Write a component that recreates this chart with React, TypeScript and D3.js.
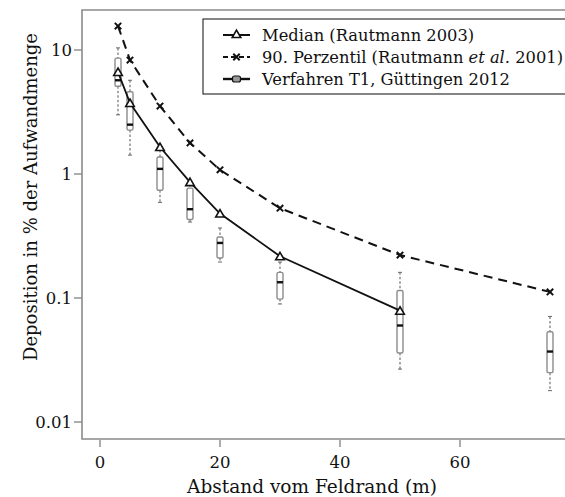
import React from "react";
import * as d3 from "d3";

// Abstand vom Feldrand (m)
const medianX = [3, 5, 10, 15, 20, 30, 50];
const medianY = [6.65, 3.74, 1.65, 0.86, 0.48, 0.217, 0.079];
const p90X = [3, 5, 10, 15, 20, 30, 50, 75];
const p90Y = [15.6, 8.3, 3.53, 1.78, 1.08, 0.53, 0.222, 0.112];

// Verfahren T1, Güttingen 2012 (boxplots)
const boxX = [3, 5, 10, 15, 20, 30, 50, 75];
const whiskerHi = [10.4, 5.7, 1.56, 0.83, 0.367, 0.195, 0.161, 0.071];
const boxHi = [8.6, 4.6, 1.37, 0.77, 0.31, 0.161, 0.115, 0.0535];
const boxMed = [5.7, 2.5, 1.1, 0.52, 0.278, 0.134, 0.06, 0.037];
const boxLo = [5.1, 2.26, 0.74, 0.43, 0.21, 0.098, 0.036, 0.025];
const whiskerLo = [3.0, 1.42, 0.59, 0.41, 0.195, 0.0895, 0.0267, 0.0179];

const xTicks = [0, 20, 40, 60];
const yTicks = [10, 1, 0.1, 0.01];
const yTickLabels = ["10", "1", "0.1", "0.01"];

const W = 565, H = 497;
const left = 82, top = 10, bottom = 439;
const font = "'DejaVu Serif', serif";
const axisGray = "#8a8a8a";

const x = d3.scaleLinear().domain([-3, 78]).range([left, left + 81 * 6]);
const y = d3.scaleLog().domain([0.01, 10]).range([422, 50]);

const line = d3.line<[number, number]>().x(d => x(d[0])).y(d => y(d[1]));
const tri = d3.symbol().type(d3.symbolTriangle).size(32)();

function Cross({ cx, cy }: { cx: number; cy: number }) {
  const s = 3.2;
  return (
    <path d={`M${cx - s},${cy - s}L${cx + s},${cy + s}M${cx - s},${cy + s}L${cx + s},${cy - s}`}
      stroke="#111" strokeWidth={2} />
  );
}

export default function App() {
  const medPts = medianX.map((v, i) => [v, medianY[i]] as [number, number]);
  const p90Pts = p90X.map((v, i) => [v, p90Y[i]] as [number, number]);
  const bw = 6;
  const legendRows = [35, 57, 79];
  const lx0 = 223, lx1 = 250, lxm = 236.5;
  return (
    <svg width={W} height={H} style={{ position: "absolute", left: 0, top: 0 }} fontFamily={font}>
      <rect x={0} y={0} width={W} height={H} fill="#fff" />
      {/* frame */}
      <path d={`M${W + 5},${top}H${left}V${bottom}H${W + 5}`} fill="none" stroke={axisGray} strokeWidth={1.6} />
      {xTicks.map(t => (
        <g key={"xt" + t}>
          <line x1={x(t)} x2={x(t)} y1={bottom + 1} y2={bottom + 8} stroke={axisGray} strokeWidth={1.4} />
          <text x={x(t)} y={468} textAnchor="middle" fontSize={16.5} fill="#111">{t}</text>
        </g>
      ))}
      {yTicks.map((t, i) => (
        <g key={"yt" + t}>
          <line x1={left - 8} x2={left} y1={y(t)} y2={y(t)} stroke={axisGray} strokeWidth={1.4} />
          <text x={72} y={y(t)} dy="0.35em" textAnchor="end" fontSize={16.5} fill="#111">{yTickLabels[i]}</text>
        </g>
      ))}
      <text x={312} y={493} textAnchor="middle" fontSize={18.5} fill="#111">Abstand vom Feldrand (m)</text>
      <text transform="translate(37,197) rotate(-90)" textAnchor="middle" fontSize={18} fill="#111">
        Deposition in % der Aufwandmenge
      </text>

      {/* boxplots */}
      {boxX.map((v, i) => {
        const cx = x(v);
        return (
          <g key={"b" + v}>
            <line x1={cx} x2={cx} y1={y(whiskerHi[i])} y2={y(boxHi[i])} stroke="#666" strokeWidth={1.1} strokeDasharray="2.5,2" />
            <line x1={cx} x2={cx} y1={y(boxLo[i])} y2={y(whiskerLo[i])} stroke="#666" strokeWidth={1.1} strokeDasharray="2.5,2" />
            <line x1={cx - 2} x2={cx + 2} y1={y(whiskerHi[i])} y2={y(whiskerHi[i])} stroke="#666" strokeWidth={1} />
            <line x1={cx - 2} x2={cx + 2} y1={y(whiskerLo[i])} y2={y(whiskerLo[i])} stroke="#666" strokeWidth={1} />
            <rect x={cx - bw / 2} y={y(boxHi[i])} width={bw} height={y(boxLo[i]) - y(boxHi[i])} rx={1.5}
              fill="#fff" stroke="#8c8c8c" strokeWidth={1.4} />
            <line x1={cx - bw / 2} x2={cx + bw / 2} y1={y(boxMed[i])} y2={y(boxMed[i])} stroke="#111" strokeWidth={2.4} />
          </g>
        );
      })}

      {/* 90. Perzentil */}
      <path d={line(p90Pts) || ""} fill="none" stroke="#111" strokeWidth={2} strokeDasharray="9,6" />
      {p90Pts.map(p => <Cross key={"c" + p[0]} cx={x(p[0])} cy={y(p[1])} />)}

      {/* Median */}
      <path d={line(medPts) || ""} fill="none" stroke="#111" strokeWidth={1.8} />
      {medPts.map(p => (
        <path key={"m" + p[0]} d={tri || ""} transform={`translate(${x(p[0])},${y(p[1]) + 1})`}
          fill="#fff" stroke="#111" strokeWidth={1.6} />
      ))}

      {/* legend */}
      <rect x={203} y={19} width={400} height={75} fill="#fff" stroke="#222" strokeWidth={1.1} />
      <line x1={lx0} x2={lx1} y1={legendRows[0]} y2={legendRows[0]} stroke="#111" strokeWidth={2} />
      <path d={tri || ""} transform={`translate(${lxm},${legendRows[0]})`} fill="#fff" stroke="#111" strokeWidth={1.6} />
      <line x1={lx0} x2={lx1} y1={legendRows[1]} y2={legendRows[1]} stroke="#111" strokeWidth={2} strokeDasharray="5,3" />
      <Cross cx={lxm} cy={legendRows[1]} />
      <line x1={lx0} x2={lx1} y1={legendRows[2]} y2={legendRows[2]} stroke="#111" strokeWidth={2.4} />
      <rect x={lxm - 4} y={legendRows[2] - 3} width={8} height={6} rx={2} fill="#999" stroke="#111" strokeWidth={1.2} />
      <g fontSize={16.3} fill="#111">
        <text x={262} y={legendRows[0]} dy="0.35em">Median (Rautmann 2003)</text>
        <text x={262} y={legendRows[1]} dy="0.35em">
          90. Perzentil (Rautmann <tspan fontStyle="italic">et al.</tspan> 2001)
        </text>
        <text x={262} y={legendRows[2]} dy="0.35em">Verfahren T1, Güttingen 2012</text>
      </g>
    </svg>
  );
}
